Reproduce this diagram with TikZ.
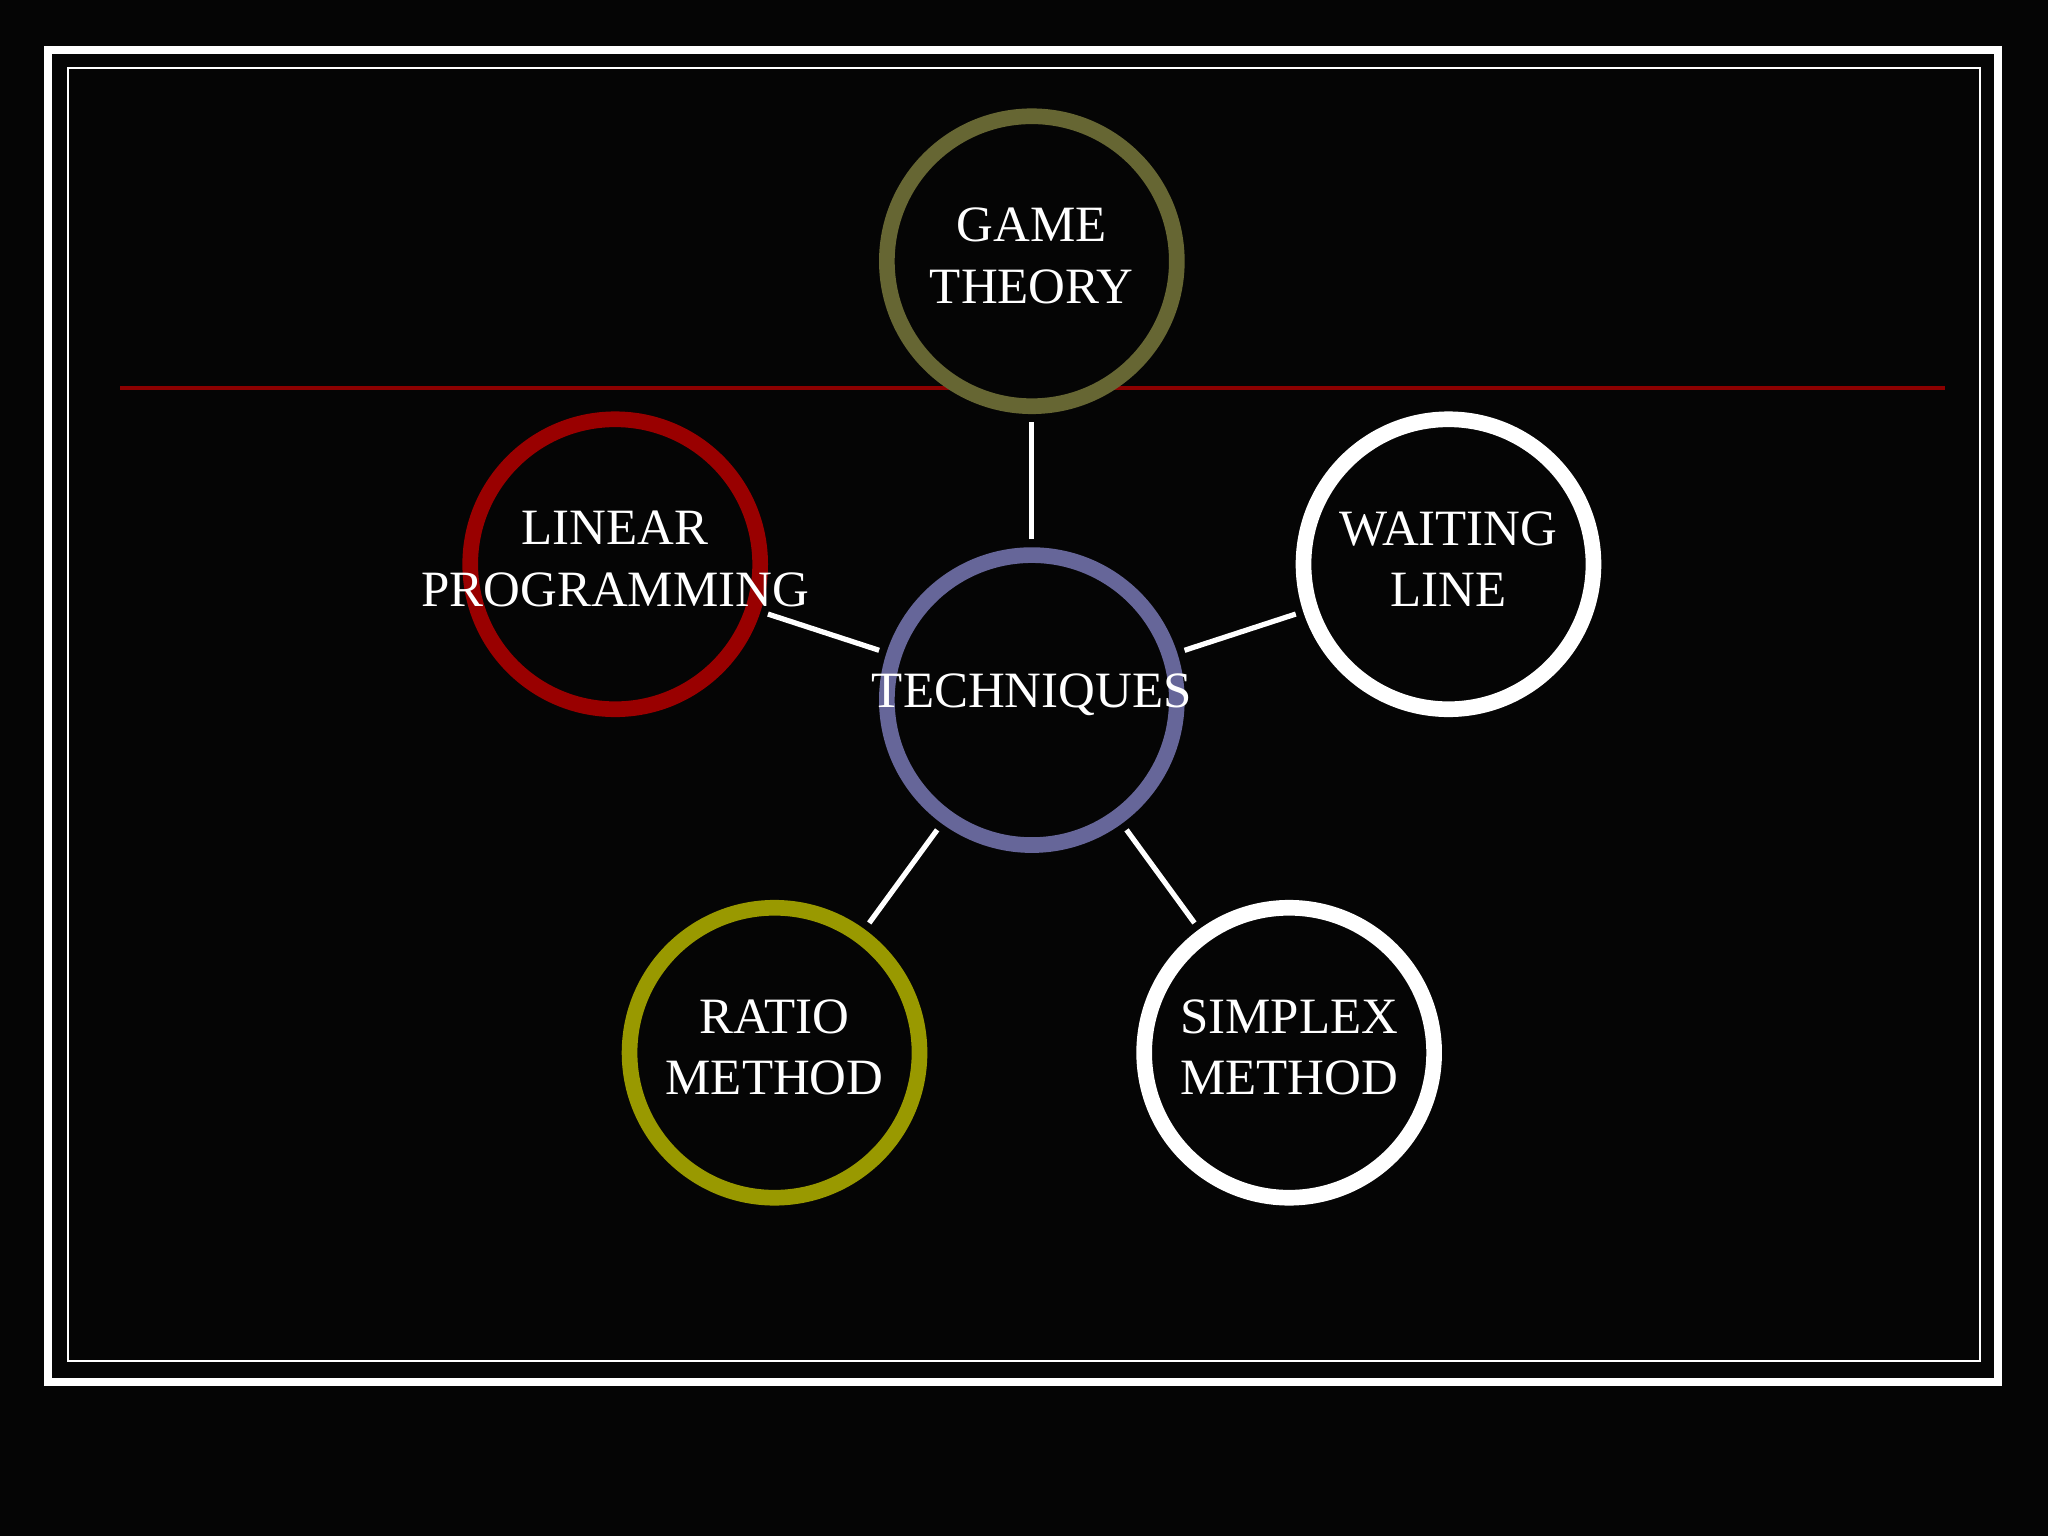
\documentclass[tikz,border=0pt]{standalone}
\usepackage{fontspec}
\setmainfont{Liberation Serif}
\begin{document}
\begin{tikzpicture}[x=1pt,y=-1pt,
  ring/.style={circle,minimum size=222pt,inner sep=0pt,line width=12pt,fill=black!98!white},
  lbl/.style={text=white,align=center,inner sep=0pt,font=\fontsize{39}{47}\selectfont},
  link/.style={draw=white,line width=4pt}]
\fill[black!98!white] (0,0) rectangle (1568,1176);
\useasboundingbox (0,0) rectangle (1568,1176);
\draw[white,line width=6pt] (37,38) rectangle (1530,1058);
\draw[white,line width=1.5pt] (52,52) rectangle (1516,1042);
\draw[red!55!black,line width=2.5pt] (92,297) -- (1489,297);
\node[ring,draw={rgb,255:red,102;green,102;blue,51}] (game) at (790,200) {};
\node[ring,draw={rgb,255:red,153;green,0;blue,0}] (lin) at (471,432) {};
\node[ring,draw=white] (wait) at (1109,432) {};
\node[ring,draw={rgb,255:red,102;green,102;blue,153}] (tech) at (790,536) {};
\node[ring,draw={rgb,255:red,153;green,153;blue,0}] (ratio) at (593,806) {};
\node[ring,draw=white] (simp) at (987,806) {};
\draw[link,shorten <=6pt,shorten >=6pt] (tech) -- (game);
\draw[link,shorten <=6pt,shorten >=6pt] (tech) -- (lin);
\draw[link,shorten <=6pt,shorten >=6pt] (tech) -- (wait);
\draw[link,shorten <=6pt,shorten >=6pt] (tech) -- (ratio);
\draw[link,shorten <=6pt,shorten >=6pt] (tech) -- (simp);
\node[lbl] (gamet) at ([yshift=4pt]game.center) {GAME\\THEORY};
\node[lbl] (lint) at ([yshift=4pt]lin.center) {LINEAR\\PROGRAMMING};
\node[lbl] (waitt) at ([yshift=4pt]wait.center) {WAITING\\LINE};
\node[lbl] (techt) at ([yshift=4pt]tech.center) {TECHNIQUES};
\node[lbl] (ratiot) at ([yshift=4pt]ratio.center) {RATIO\\METHOD};
\node[lbl] (simpt) at ([yshift=4pt]simp.center) {SIMPLEX\\METHOD};
\end{tikzpicture}
\end{document}
